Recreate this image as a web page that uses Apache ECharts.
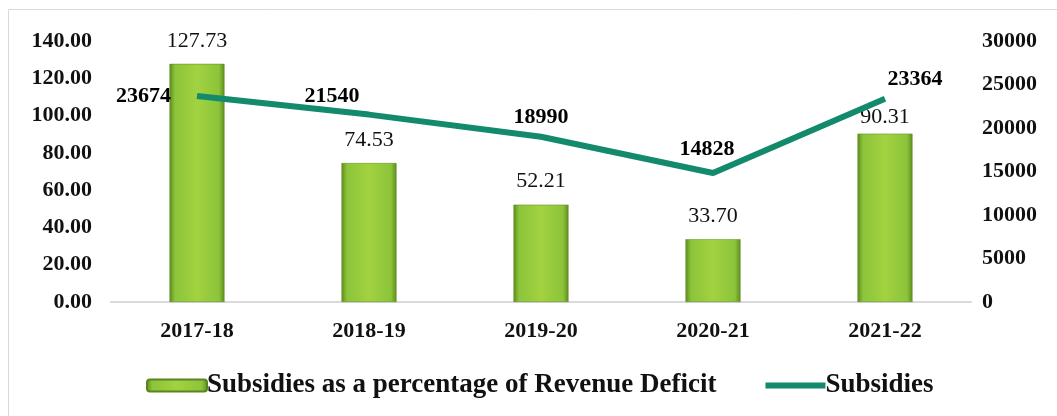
<!DOCTYPE html>
<html>
<head>
<meta charset="utf-8">
<script src="https://cdn.jsdelivr.net/npm/echarts@6/dist/echarts.min.js"></script>
<style>
  html, body { margin: 0; padding: 0; background: #ffffff; }
  #chart { width: 1057px; height: 416px; }
</style>
</head>
<body>
<div id="chart"></div>
<script>
// Fiscal years on the category axis
var years = ['2017-18', '2018-19', '2019-20', '2020-21', '2021-22'];
// Subsidies as a percentage of revenue deficit (left axis)
var pctOfDeficit = [127.73, 74.53, 52.21, 33.70, 90.31];
// Subsidies in crore (right axis)
var subsidies = [23674, 21540, 18990, 14828, 23364];

var serif = '"Liberation Serif", "Times New Roman", serif';
var lineColor = '#138a6b';

var barFill = new echarts.graphic.LinearGradient(0, 0, 1, 0, [
  { offset: 0, color: '#5f8c1c' },
  { offset: 0.1, color: '#8cc43a' },
  { offset: 0.5, color: '#a2d240' },
  { offset: 0.9, color: '#8cc43a' },
  { offset: 1, color: '#5f8c1c' }
]);

// Gap between each bar and its value label
var barLabelGap = [12, 12, 12, 12, 5];

// Hand-placed label offsets for the subsidy values, one per year
var lineLabelPos = [
  { position: 'left', distance: 26 },
  { position: 'top', offset: [-37, -2] },
  { position: 'top', offset: [0, -3] },
  { position: 'top', offset: [-6, -8] },
  { position: 'top', offset: [30, -3] }
];

var barData = pctOfDeficit.map(function (v, i) {
  return { value: v, label: { distance: barLabelGap[i] } };
});

var lineData = subsidies.map(function (v, i) {
  return { value: v, label: lineLabelPos[i] };
});

var chart = echarts.init(document.getElementById('chart'), null, { renderer: 'canvas' });
chart.setOption({
  animation: false,
  backgroundColor: '#ffffff',
  graphic: [{
    type: 'rect',
    shape: { x: 8.5, y: 9.5, width: 1100, height: 500 },
    style: { fill: 'none', stroke: '#d9d9d9', lineWidth: 1 },
    silent: true,
    z: -1
  }],
  grid: { left: 111, right: 86, top: 41, bottom: 114 },
  legend: {
    bottom: 12,
    left: 141,
    itemGap: 46,
    itemWidth: 60,
    itemHeight: 12,
    textStyle: { fontFamily: serif, fontSize: 27, fontWeight: 'bold', color: '#111', padding: [0, 0, 0, -5] },
    data: [
      { name: 'Subsidies as a percentage of Revenue Deficit' },
      { name: 'Subsidies', lineStyle: { width: 6 }, itemStyle: { opacity: 0 } }
    ]
  },
  xAxis: {
    type: 'category',
    data: years,
    axisLine: { lineStyle: { color: '#d9d9d9', width: 2 } },
    axisTick: { show: false },
    axisLabel: { fontFamily: serif, fontSize: 22, fontWeight: 'bold', color: '#111', margin: 18 }
  },
  yAxis: [{
    type: 'value',
    min: 0, max: 140, interval: 20,
    splitLine: { show: false },
    axisLine: { show: false },
    axisTick: { show: false },
    axisLabel: {
      fontFamily: serif, fontSize: 22, fontWeight: 'bold', color: '#111', margin: 19,
      formatter: function (v) { return v.toFixed(2); }
    }
  }, {
    type: 'value',
    min: 0, max: 30000, interval: 5000,
    splitLine: { show: false },
    axisLine: { show: false },
    axisTick: { show: false },
    axisLabel: {
      fontFamily: serif, fontSize: 22, fontWeight: 'bold', color: '#111', margin: 11,
      formatter: function (v) { return String(v); }
    }
  }],
  series: [{
    name: 'Subsidies as a percentage of Revenue Deficit',
    type: 'bar',
    yAxisIndex: 0,
    data: barData,
    barWidth: 55,
    itemStyle: { color: barFill, borderColor: '#5a8420', borderWidth: 0.5 },
    label: {
      show: true, position: 'top',
      fontFamily: serif, fontSize: 22, color: '#111',
      formatter: function (p) { return p.value.toFixed(2); }
    },
    z: 2
  }, {
    name: 'Subsidies',
    type: 'line',
    yAxisIndex: 1,
    data: lineData,
    symbol: 'circle',
    symbolSize: 0,
    showSymbol: true,
    lineStyle: { color: lineColor, width: 6 },
    itemStyle: { color: lineColor },
    label: {
      show: true,
      fontFamily: serif, fontSize: 22, fontWeight: 'bold', color: '#000'
    },
    z: 3
  }]
});
</script>
</body>
</html>
